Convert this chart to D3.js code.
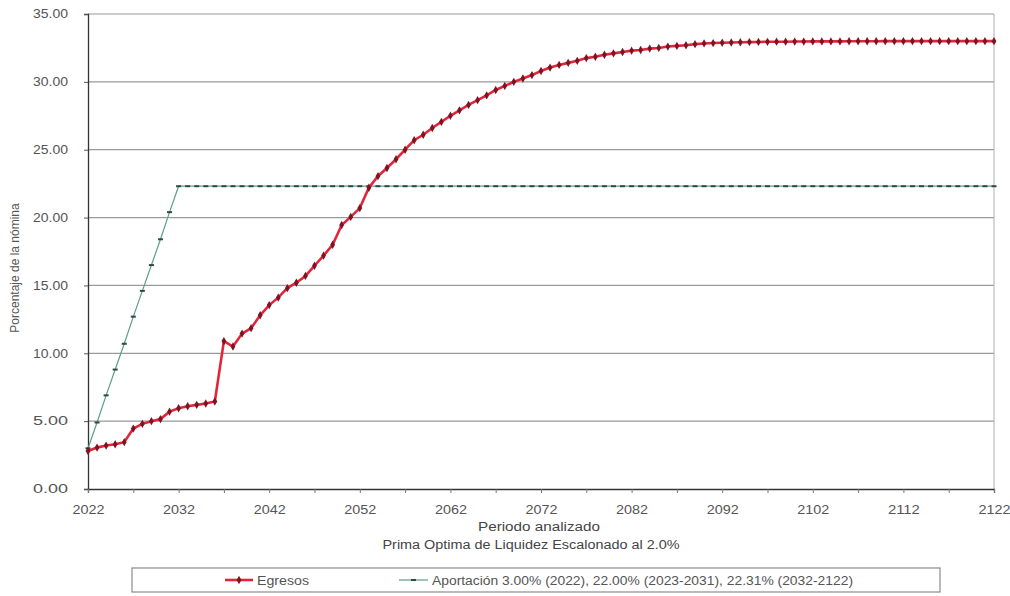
<!DOCTYPE html>
<html>
<head>
<meta charset="utf-8">
<script src="https://cdn.jsdelivr.net/npm/d3@7"></script>
<style>
  html, body { margin: 0; padding: 0; background: #fff; }
  svg text { font-family: "Liberation Sans", Arial, sans-serif; }
</style>
</head>
<body>
<svg id="chart" width="1010" height="596"></svg>
<script>
// ---- Data ----
const years = d3.range(2022, 2123);
const tickYears = [2022, 2032, 2042, 2052, 2062, 2072, 2082, 2092, 2102, 2112, 2122];
const yTicks = [0, 5, 10, 15, 20, 25, 30, 35];

const egresos = [
  2.80, 3.05, 3.20, 3.30, 3.45, 4.45, 4.80, 5.00, 5.15, 5.70,   // 2022-2031
  5.95, 6.10, 6.20, 6.30, 6.45, 10.90, 10.50, 11.45, 11.85, 12.80, // 2032-2041
  13.55, 14.10, 14.80, 15.20, 15.70, 16.45, 17.20, 18.00, 19.45, 20.05, // 2042-2051
  20.70, 22.20, 23.05, 23.65, 24.30, 25.00, 25.70, 26.10, 26.60, 27.05, // 2052-2061
  27.50, 27.90, 28.30, 28.65, 29.00, 29.40, 29.70, 30.00, 30.25, 30.50, // 2062-2071
  30.80, 31.05, 31.25, 31.40, 31.55, 31.75, 31.85, 32.00, 32.10, 32.20, // 2072-2081
  32.30, 32.35, 32.45, 32.50, 32.60, 32.65, 32.70, 32.78, 32.83, 32.86, // 2082-2091
  32.88, 32.90, 32.92, 32.93, 32.94, 32.95, 32.96, 32.96, 32.97, 32.97, // 2092-2101
  32.98, 32.98, 32.98, 32.98, 32.99, 32.99, 32.99, 32.99, 33.00, 33.00, // 2102-2111
  33.00, 33.00, 33.00, 33.00, 33.00, 33.00, 33.00, 33.00, 33.00, 33.00, // 2112-2121
  33.00                                                                  // 2122
];

const aportacion = [
  3.00, 4.90, 6.90, 8.80, 10.70, 12.70, 14.60, 16.50, 18.40, 20.40, // 2022-2031
  22.31, 22.31, 22.31, 22.31, 22.31, 22.31, 22.31, 22.31, 22.31, 22.31, // 2032-2041
  22.31, 22.31, 22.31, 22.31, 22.31, 22.31, 22.31, 22.31, 22.31, 22.31, // 2042-2051
  22.31, 22.31, 22.31, 22.31, 22.31, 22.31, 22.31, 22.31, 22.31, 22.31, // 2052-2061
  22.31, 22.31, 22.31, 22.31, 22.31, 22.31, 22.31, 22.31, 22.31, 22.31, // 2062-2071
  22.31, 22.31, 22.31, 22.31, 22.31, 22.31, 22.31, 22.31, 22.31, 22.31, // 2072-2081
  22.31, 22.31, 22.31, 22.31, 22.31, 22.31, 22.31, 22.31, 22.31, 22.31, // 2082-2091
  22.31, 22.31, 22.31, 22.31, 22.31, 22.31, 22.31, 22.31, 22.31, 22.31, // 2092-2101
  22.31, 22.31, 22.31, 22.31, 22.31, 22.31, 22.31, 22.31, 22.31, 22.31, // 2102-2111
  22.31, 22.31, 22.31, 22.31, 22.31, 22.31, 22.31, 22.31, 22.31, 22.31, // 2112-2121
  22.31                                                                  // 2122
];

const seriesNames = ["Egresos", "Aportación 3.00% (2022), 22.00% (2023-2031), 22.31% (2032-2122)"];
const xTitle = "Periodo analizado";
const subTitle = "Prima Optima de Liquidez Escalonado al 2.0%";
const yTitle = "Porcentaje de la nómina";

// ---- Layout ----
const svg = d3.select("#chart");
const pL = 88, pR = 994, pT = 14, pB = 489;

const x = d3.scaleLinear().domain([2022, 2122]).range([pL, pR]);
const y = d3.scaleLinear().domain([0, 35]).range([pB, pT]);

const redLine = "#e2253a", redMarker = "#7d1424";
const greenLine = "#5a9e8a", greenMarker = "#2e4a42";
const textCol = "#555";

// gridlines
svg.append("g").selectAll("line").data(yTicks.filter(d => d > 0)).join("line")
  .attr("x1", pL).attr("x2", pR)
  .attr("y1", d => y(d)).attr("y2", d => y(d))
  .attr("stroke", "#9a9a9a").attr("stroke-width", 1.2);

// right border
svg.append("line").attr("x1", pR).attr("x2", pR).attr("y1", pT).attr("y2", pB)
  .attr("stroke", "#b0b0b0").attr("stroke-width", 1);

// y axis
const yAxis = d3.axisLeft(y).tickValues(yTicks).tickFormat(d3.format(".2f")).tickSize(4).tickPadding(16);
const gy = svg.append("g").attr("transform", `translate(${pL},0)`).call(yAxis);
gy.select(".domain").attr("stroke", "#333").attr("stroke-width", 1.3);
gy.selectAll(".tick line").attr("stroke", "#555");
gy.selectAll("text").attr("font-size", 12).attr("fill", textCol)
  .attr("textLength", 35).attr("lengthAdjust", "spacingAndGlyphs");

// x axis
const xAxis = d3.axisBottom(x).tickValues(d3.range(2022, 2123, 5))
  .tickFormat(d => tickYears.includes(d) ? String(d) : "").tickSize(4).tickPadding(12);
const gx = svg.append("g").attr("transform", `translate(0,${pB})`).call(xAxis);
gx.select(".domain").attr("stroke", "#333").attr("stroke-width", 1.3);
gx.selectAll(".tick line").attr("stroke", "#777");
gx.selectAll("text").attr("font-size", 12).attr("fill", textCol)
  .filter(function() { return this.textContent !== ""; })
  .attr("textLength", 32).attr("lengthAdjust", "spacingAndGlyphs");

// lines
const data1 = years.map((yr, i) => ({yr, v: egresos[i]}));
const data2 = years.map((yr, i) => ({yr, v: aportacion[i]}));
const line = d3.line().x(d => x(d.yr)).y(d => y(d.v));

svg.append("path").datum(data2).attr("d", line)
  .attr("fill", "none").attr("stroke", greenLine).attr("stroke-width", 1.2);
svg.append("g").selectAll("rect").data(data2).join("rect")
  .attr("x", d => x(d.yr) - 2.5).attr("y", d => y(d.v) - 1)
  .attr("width", 5).attr("height", 2).attr("fill", greenMarker);

svg.append("path").datum(data1).attr("d", line)
  .attr("fill", "none").attr("stroke", redLine).attr("stroke-width", 2.6);
const diamond = d3.symbol().type(d3.symbolDiamond).size(20);
svg.append("g").selectAll("path").data(data1).join("path")
  .attr("transform", d => `translate(${x(d.yr)},${y(d.v)})`)
  .attr("d", diamond).attr("fill", redMarker);

// titles
svg.append("text").attr("x", 539).attr("y", 531).attr("text-anchor", "middle")
  .attr("font-size", 12.5).attr("fill", "#444")
  .attr("textLength", 122).attr("lengthAdjust", "spacingAndGlyphs").text(xTitle);
svg.append("text").attr("x", 531).attr("y", 549).attr("text-anchor", "middle")
  .attr("font-size", 12.5).attr("fill", "#444")
  .attr("textLength", 297).attr("lengthAdjust", "spacingAndGlyphs").text(subTitle);
svg.append("text").attr("transform", "translate(19,268) rotate(-90)").attr("text-anchor", "middle")
  .attr("font-size", 12).attr("fill", textCol).text(yTitle);

// legend
svg.append("rect").attr("x", 132).attr("y", 568).attr("width", 808).attr("height", 24)
  .attr("fill", "#fff").attr("stroke", "#8a8a8a").attr("stroke-width", 1.2);
const ly = 580;
svg.append("line").attr("x1", 225).attr("x2", 253).attr("y1", ly).attr("y2", ly)
  .attr("stroke", redLine).attr("stroke-width", 2.6);
svg.append("path").attr("transform", `translate(239,${ly})`).attr("d", diamond).attr("fill", redMarker);
svg.append("text").attr("x", 257).attr("y", ly + 4.5).attr("font-size", 12).attr("fill", textCol)
  .attr("textLength", 52).attr("lengthAdjust", "spacingAndGlyphs").text(seriesNames[0]);

svg.append("line").attr("x1", 399).attr("x2", 428).attr("y1", ly).attr("y2", ly)
  .attr("stroke", greenLine).attr("stroke-width", 1.2);
svg.append("rect").attr("x", 411).attr("y", ly - 1).attr("width", 5).attr("height", 2).attr("fill", greenMarker);
svg.append("text").attr("x", 432).attr("y", ly + 4.5).attr("font-size", 12).attr("fill", textCol)
  .attr("textLength", 421).attr("lengthAdjust", "spacingAndGlyphs").text(seriesNames[1]);
</script>
</body>
</html>
